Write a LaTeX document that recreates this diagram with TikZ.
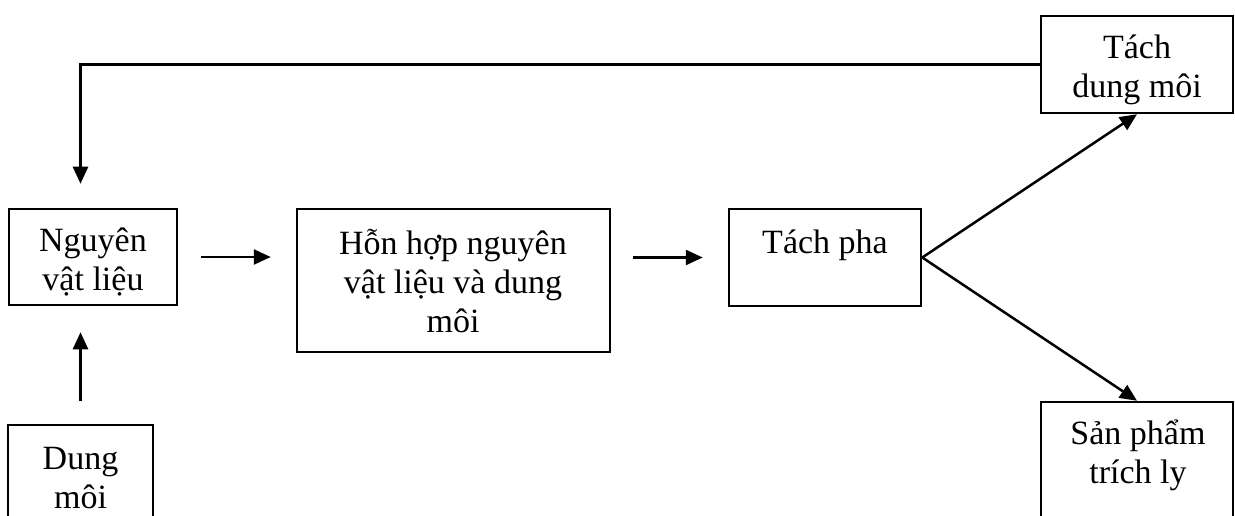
\documentclass[tikz,border=0pt]{standalone}
\usepackage{fontspec}
\setmainfont{Liberation Serif}
\usetikzlibrary{arrows.meta,calc}
\begin{document}
\begin{tikzpicture}[x=1pt,y=-1pt,
  box/.style={draw,line width=2.5pt,inner sep=0pt},
  txt/.style={font=\fontsize{34}{39}\selectfont,align=center,anchor=base,inner sep=0pt},
  conn/.style={line width=2.5pt,-{Triangle[length=17pt,width=15pt]}}]
\clip (0,0) rectangle (1235,516);
% boxes
\node[box,minimum width=168pt,minimum height=96pt] (nvl) at (93,257) {};
\node[box,minimum width=313pt,minimum height=143pt] (mix) at (453.5,280.5) {};
\node[box,minimum width=192pt,minimum height=97pt] (tp) at (825,257.5) {};
\node[box,minimum width=192pt,minimum height=97pt] (tdm) at (1137,64.5) {};
\node[box,minimum width=192pt,minimum height=158pt] (sp) at (1137,481) {};
\node[box,minimum width=145pt,minimum height=135pt] (dm) at (80.5,492.5) {};
% texts (anchored at the baseline of the last line)
\node[txt] (nvl-t) at (93,290) {Nguyên\\vật liệu};
\node[txt] (mix-t) at (453,332) {Hỗn hợp nguyên\\vật liệu và dung\\môi};
\node[txt] (tp-t) at (825,253) {Tách pha};
\node[txt] (tdm-t) at (1137,98) {Tách\\dung môi};
\node[txt] (sp-t) at (1138,483) {Sản phẩm\\trích ly};
\node[txt] (dm-t) at (80.5,508) {Dung\\môi};
% connectors
\draw[conn,shorten <=23pt,shorten >=25pt] (nvl.east) -- (nvl.east -| mix.west);
\draw[conn,shorten <=22pt,shorten >=25pt] (tp.west -| mix.east) -- (tp.west);
\draw[conn] (tp.east) -- (tdm.south);
\draw[conn] (tp.east) -- (sp.north);
\draw[conn,shorten <=23pt,shorten >=26pt] (dm.north) -- (dm.north |- nvl.south);
\draw[conn,shorten >=24pt] (tdm.west) -| (dm.north |- nvl.north);
\end{tikzpicture}
\end{document}
